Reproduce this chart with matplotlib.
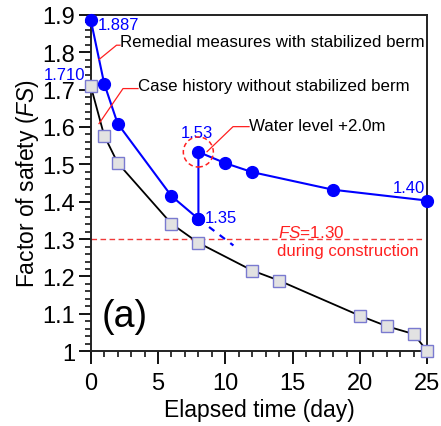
import matplotlib
matplotlib.use("Agg")
import matplotlib.pyplot as plt
from matplotlib.ticker import MultipleLocator
from matplotlib.patches import Ellipse

plt.rcParams['font.family'] = ['Liberation Sans', 'DejaVu Sans']
plt.rcParams['mathtext.fontset'] = 'custom'
plt.rcParams['mathtext.rm'] = 'Liberation Sans'
plt.rcParams['mathtext.it'] = 'Liberation Sans:italic'

# data
case_days = [0, 1, 2, 6, 8, 12, 14, 20, 22, 24, 25]
case_fs = [1.710, 1.577, 1.504, 1.341, 1.290, 1.216, 1.189, 1.095, 1.067, 1.046, 1.000]
rem_days_a = [0, 1, 2, 6, 8]
rem_fs_a = [1.887, 1.716, 1.609, 1.415, 1.354]
rem_days_b = [8, 8, 10, 12, 18, 25]
rem_fs_b = [1.354, 1.533, 1.503, 1.479, 1.432, 1.403]
ext_days = [8, 10.6]
ext_fs = [1.354, 1.283]
fs_limit = 1.30
y_ticks = [1.0, 1.1, 1.2, 1.3, 1.4, 1.5, 1.6, 1.7, 1.8, 1.9]
y_ticklabels = ['1', '1.1', '1.2', '1.3', '1.4', '1.5', '1.6', '1.7', '1.8', '1.9']

W, H = 441, 427
fig = plt.figure(figsize=(W / 100, H / 100), dpi=100)
ax = fig.add_axes([90.7 / W, 1 - 352.3 / H, (427.3 - 90.7) / W, (352.3 - 15.7) / H])

blue = '#0000ff'
red = '#ff2020'

ax.axhline(fs_limit, xmin=0, xmax=24.6 / 25, color='#f03a3a', ls=(0, (4, 2.5)), lw=1.0, zorder=1)
ax.plot(case_days, case_fs, color='black', lw=1.3, zorder=2)
ax.plot(case_days, case_fs, ls='none', marker='s', ms=8.5, mfc='#e2e2e2', mec='#7a7ad0', mew=1.0,
        zorder=3, clip_on=False)
ax.plot(ext_days, ext_fs, color=blue, lw=1.6, ls=(0, (3, 3)), zorder=2)
ax.plot(rem_days_a, rem_fs_a, color=blue, lw=1.5, marker='o', ms=8.5, mfc=blue, mec=blue,
        zorder=4, clip_on=False)
ax.plot(rem_days_b, rem_fs_b, color=blue, lw=1.5, marker='o', ms=8.5, mfc=blue, mec=blue,
        zorder=4, clip_on=False)

ax.set_xlim(0, 25)
ax.set_ylim(1.0, 1.9)
ax.xaxis.set_major_locator(MultipleLocator(5))
ax.xaxis.set_minor_locator(MultipleLocator(1))
ax.yaxis.set_minor_locator(MultipleLocator(0.02))
ax.set_yticks(y_ticks)
ax.set_yticklabels(y_ticklabels)
ax.tick_params(which='major', direction='out', length=9, width=1.3, labelsize=17, pad=2)
ax.tick_params(which='minor', direction='out', length=4.5, width=1.1)
ax.tick_params(axis='x', which='major', pad=6)
for s in ax.spines.values():
    s.set_linewidth(1.4)
    s.set_color('#222222')

ax.set_xlabel('Elapsed time (day)', fontsize=16.5, labelpad=3)
ax.set_ylabel('Factor of safety ($\\mathit{FS}$)', fontsize=16.5, labelpad=1)

# value labels
vkw = dict(color=blue, fontsize=12, va='center_baseline')
ax.text(0.55, 1.879, '1.887', ha='left', **vkw)
ax.text(-0.4, 1.745, '1.710', ha='right', **vkw)
ax.text(7.9, 1.588, '1.53', ha='center', **vkw)
ax.text(8.5, 1.362, '1.35', ha='left', **vkw)
ax.text(24.85, 1.441, '1.40', ha='right', **vkw)

# annotations with red leaders
def px2d(x, y):
    return ((x - 90.7) / 13.46, (352.3 - y) / 373.4 + 1.0)

def leader(pts):
    xs, ys = zip(*[px2d(*p) for p in pts])
    ax.plot(xs, ys, color=red, lw=0.9, zorder=5, clip_on=False)

leader([(120, 46.7), (116.5, 46.7), (99, 61)])
tx, ty = px2d(120, 42.5)
ax.text(tx, ty, 'Remedial measures with stabilized berm', fontsize=12.2, va='center', ha='left')
leader([(138, 90), (123, 90), (99, 125)])
tx, ty = px2d(138, 87)
ax.text(tx, ty, 'Case history without stabilized berm', fontsize=12.2, va='center', ha='left')
leader([(249, 128), (233, 128), (207, 153)])
tx, ty = px2d(249, 126.5)
ax.text(tx, ty, 'Water level +2.0m', fontsize=12.2, va='center', ha='left')

cx, cy = px2d(198.3, 153.3)
circ = Ellipse((cx, cy), width=30 / 13.46, height=30 / 373.4, fill=False, ec=red,
               ls=(0, (3, 2)), lw=1.1, zorder=5)
ax.add_patch(circ)

ax.text(13.9, 1.323, '$\\mathit{FS}$=1.30', color=red, fontsize=12.3, va='center_baseline', ha='left')
ax.text(13.8, 1.273, 'during construction', color=red, fontsize=12, va='center_baseline', ha='left')

ax.text(0.8, 1.095, '(a)', fontsize=27, va='center', ha='left')

fig.savefig('out.png', dpi=100)
